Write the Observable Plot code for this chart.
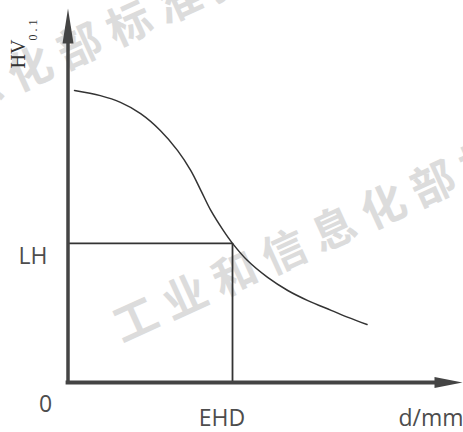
<!DOCTYPE html>
<html>
<head>
<meta charset="utf-8">
<script src="https://cdn.jsdelivr.net/npm/d3@7"></script>
<script src="https://cdn.jsdelivr.net/npm/@observablehq/plot@0.6"></script>
<style>
  html, body { margin: 0; padding: 0; background: #fff; }
  #chart svg { display: block; }
</style>
</head>
<body>
<div id="chart"></div>
<script>
// Schematic hardness profile: depth d (mm) vs hardness HV0.1
const depth    = [0.165, 0.82, 1.33, 1.84, 2.34, 2.78, 3.11, 3.37, 3.62, 3.94, 4.17, 4.55, 5.06, 5.57, 6.08, 6.67, 7.10, 7.58];
const hardness = [7.81, 7.67, 7.49, 7.19, 6.74, 6.20, 5.67, 5.13, 4.60, 4.06, 3.72, 3.26, 2.81, 2.46, 2.19, 1.93, 1.74, 1.55];
const LH  = 3.72;   // limit hardness
const EHD = 4.17;   // effective hardening depth
const xDomain = [0, 10];
const yDomain = [0, 10];
const axisLabels = {x: "d/mm", y: "HV", ySub: "0.1", origin: "0", lh: "LH", ehd: "EHD"};
const watermarkText = "工业和信息化部标准报批稿";
const watermarkD  = [-7.74, 1.22];
const watermarkHV = [5.08, 1.40];

const curve = depth.map((d, i) => ({d, hv: hardness[i]}));
const watermarks = watermarkD.map((d, i) => ({d, hv: watermarkHV[i], text: watermarkText}));
const xMax = xDomain[1], yMax = yDomain[1];

const ink = "#444";
const lineInk = "#333";
const labelInk = "#4d4d4d";
const sans = "'Open Sans', 'Noto Sans', sans-serif";

const arrowUp = {draw(ctx) { ctx.moveTo(0, 0); ctx.lineTo(5.5, 35); ctx.lineTo(-5.5, 35); ctx.closePath(); }};
const arrowRight = {draw(ctx) { ctx.moveTo(0, 0); ctx.lineTo(-28, 5.5); ctx.lineTo(-28, -5.5); ctx.closePath(); }};

const chart = Plot.plot({
  width: 463,
  height: 432,
  marginLeft: 67.5,
  marginRight: 1,
  marginTop: 8,
  marginBottom: 50,
  x: {domain: xDomain, axis: null},
  y: {domain: yDomain, axis: null},
  style: {background: "#fff", overflow: "hidden"},
  marks: [
    Plot.text(watermarks, {x: "d", y: "hv", text: "text", rotate: -24.5, textAnchor: "start",
      fontSize: 44, fontWeight: "bold", fill: "#dcdcdc", fontFamily: "'Noto Sans CJK SC', sans-serif"}),
    Plot.ruleY([LH], {x1: xDomain[0], x2: EHD, stroke: lineInk, strokeWidth: 1.8}),
    Plot.ruleX([EHD], {y1: yDomain[0], y2: LH, stroke: lineInk, strokeWidth: 1.8}),
    Plot.line(curve, {x: "d", y: "hv", curve: "catmull-rom", stroke: lineInk, strokeWidth: 1.5}),
    Plot.ruleX([xDomain[0]], {y1: yDomain[0], y2: yMax * 0.95, stroke: ink, strokeWidth: 3.5, strokeLinecap: "square"}),
    Plot.ruleY([yDomain[0]], {x1: xDomain[0], x2: xMax * 0.96, stroke: ink, strokeWidth: 3.8, strokeLinecap: "square"}),
    Plot.dot([0], {x: xDomain[0], y: yMax, symbol: arrowUp, fill: ink}),
    Plot.dot([0], {x: xMax, y: yDomain[0], symbol: arrowRight, fill: ink}),
    Plot.text([axisLabels.origin], {x: xDomain[0], y: yDomain[0], text: d => d, dx: -22.5, dy: 22,
      fontSize: 23, fontFamily: sans, fill: labelInk}),
    Plot.text([axisLabels.ehd], {x: EHD, y: yDomain[0], text: d => d, dx: -10.5, dy: 36.5,
      fontSize: 23, fontFamily: sans, fill: labelInk}),
    Plot.text([axisLabels.x], {x: xMax, y: yDomain[0], text: d => d, dx: 1, dy: 36.5, textAnchor: "end",
      fontSize: 23, fontFamily: sans, fill: labelInk}),
    Plot.text([axisLabels.lh], {x: xDomain[0], y: LH, text: d => d, dx: -35, dy: 13.3,
      fontSize: 23, fontFamily: sans, fill: labelInk}),
    Plot.text([axisLabels.y], {x: xDomain[0], y: yMax, text: d => d, dx: -49, dy: 45.5, rotate: -90,
      fontSize: 20, fontFamily: "'Liberation Serif', 'DejaVu Serif', serif", fill: "#333"}),
    Plot.text([axisLabels.ySub], {x: xDomain[0], y: yMax, text: d => d, dx: -35, dy: 20, rotate: -90,
      fontSize: 12, fontFamily: "'Liberation Serif', 'DejaVu Serif', serif", fill: "#333"})
  ]
});

d3.select(chart).selectAll("text").each(function() {
  const t = this.textContent;
  if (t === watermarkText) d3.select(this).attr("letter-spacing", 10.5);
  if (t === axisLabels.ySub) d3.select(this).attr("letter-spacing", 3);
});

document.getElementById("chart").appendChild(chart);
</script>
</body>
</html>
